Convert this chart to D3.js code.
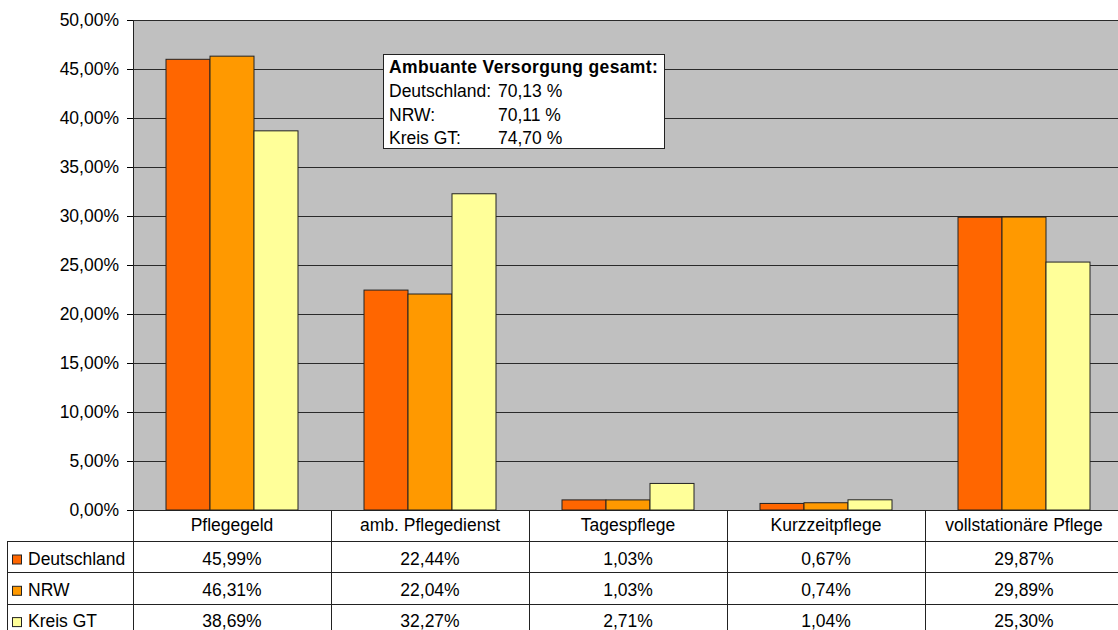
<!DOCTYPE html>
<html lang="de">
<head>
<meta charset="UTF-8">
<title>Pflege</title>
<script src="https://d3js.org/d3.v7.min.js"></script>
<style>
  body { margin: 0; background: #fff; }
  svg { display: block; font-family: "Liberation Sans", Arial, sans-serif; }
</style>
</head>
<body>
<div id="chart"></div>
<script>
const categories = ["Pflegegeld", "amb. Pflegedienst", "Tagespflege", "Kurzzeitpflege", "vollstationäre Pflege"];
const seriesNames = ["Deutschland", "NRW", "Kreis GT"];
const deutschland = [45.99, 22.44, 1.03, 0.67, 29.87];
const nrw = [46.31, 22.04, 1.03, 0.74, 29.89];
const kreisGT = [38.69, 32.27, 2.71, 1.04, 25.30];
const yTicks = [0, 5, 10, 15, 20, 25, 30, 35, 40, 45, 50];
const boxTitle = "Ambuante Versorgung gesamt:";
const boxLabels = ["Deutschland:", "NRW:", "Kreis GT:"];
const boxValues = ["70,13 %", "70,11 %", "74,70 %"];

const colors = ["#FF6600", "#FF9900", "#FFFF99"];
const values = [deutschland, nrw, kreisGT];

const W = 1118, H = 630;
const pLeft = 133, pRight = 1123, pTop = 20, pBottom = 510;
const rowH = 31.3, headH = 31.5;
const fs = "17.5px";

const de = d3.formatLocale({decimal: ",", thousands: ".", grouping: [3], currency: ["", " €"]});
const fmt = de.format(".2f");

const svg = d3.select("#chart").append("svg")
    .attr("width", W).attr("height", H);

const x0 = d3.scaleBand().domain(categories).range([pLeft, pRight])
    .paddingInner(1/3).paddingOuter(1/6);
const x1 = d3.scaleBand().domain(seriesNames).range([0, x0.bandwidth()]);
const xc = d3.scaleBand().domain(categories).range([pLeft, pRight]);
const y = d3.scaleLinear().domain([0, 50]).range([pBottom, pTop]);

// plot background
svg.append("rect")
    .attr("x", pLeft).attr("y", pTop)
    .attr("width", pRight - pLeft).attr("height", pBottom - pTop)
    .attr("fill", "#C0C0C0");

// grid lines
svg.append("g").selectAll("line")
    .data(yTicks.filter(d => d > 0))
    .enter().append("line")
    .attr("x1", pLeft).attr("x2", pRight)
    .attr("y1", d => Math.round(y(d)) + 0.5).attr("y2", d => Math.round(y(d)) + 0.5)
    .attr("stroke", "#2a2a2a").attr("stroke-width", 1);

// y axis
const yAxis = d3.axisLeft(y).tickValues(yTicks).tickSize(6).tickPadding(8)
    .tickFormat(d => fmt(d) + "%");
const ga = svg.append("g").attr("transform", "translate(" + pLeft + ",0)").call(yAxis);
ga.select(".domain").remove();
ga.selectAll("line").attr("stroke", "#000").attr("shape-rendering", "crispEdges");
ga.selectAll("text").attr("font-size", fs).attr("fill", "#000")
    .attr("font-family", "Liberation Sans, Arial, sans-serif");

// bars
const groups = svg.append("g").selectAll("g")
    .data(categories)
    .enter().append("g")
    .attr("transform", d => "translate(" + x0(d) + ",0)");

groups.selectAll("rect")
    .data((c, i) => seriesNames.map((s, j) => ({s: s, v: values[j][i], j: j})))
    .enter().append("rect")
    .attr("x", d => x1(d.s))
    .attr("y", d => y(d.v))
    .attr("width", x1.bandwidth())
    .attr("height", d => y(0) - y(d.v))
    .attr("fill", d => colors[d.j])
    .attr("stroke", "#222").attr("stroke-width", 1);

// table lines
const tBottom = pBottom + headH + rowH * 3;
const tl = svg.append("g").attr("stroke", "#222").attr("stroke-width", 1)
    .attr("shape-rendering", "crispEdges");
tl.append("line").attr("x1", pLeft).attr("x2", pRight).attr("y1", pBottom).attr("y2", pBottom);
tl.append("line").attr("x1", pLeft).attr("x2", pLeft).attr("y1", pTop).attr("y2", tBottom);
tl.selectAll(".vd").data(categories.slice(1)).enter().append("line")
    .attr("x1", d => xc(d)).attr("x2", d => xc(d))
    .attr("y1", pBottom).attr("y2", tBottom);
tl.append("line").attr("x1", 7).attr("x2", 7).attr("y1", pBottom + headH).attr("y2", tBottom);
tl.selectAll(".hd").data(seriesNames).enter().append("line")
    .attr("x1", 7).attr("x2", pRight)
    .attr("y1", (d, i) => pBottom + headH + rowH * i)
    .attr("y2", (d, i) => pBottom + headH + rowH * i);

// header labels
svg.append("g").selectAll("text")
    .data(categories)
    .enter().append("text")
    .attr("x", d => xc(d) + xc.bandwidth() / 2)
    .attr("y", pBottom + 21)
    .attr("text-anchor", "middle")
    .attr("font-size", fs)
    .text(d => d);

// rows
seriesNames.forEach((s, j) => {
  const ry = pBottom + headH + rowH * j;
  svg.append("rect")
      .attr("x", 12.5).attr("y", ry + 13.5)
      .attr("width", 9).attr("height", 9)
      .attr("fill", colors[j]).attr("stroke", "#222");
  svg.append("text")
      .attr("x", 28).attr("y", ry + 23)
      .attr("font-size", fs)
      .text(s);
  svg.append("g").selectAll("text")
      .data(values[j])
      .enter().append("text")
      .attr("x", (d, i) => xc(categories[i]) + xc.bandwidth() / 2)
      .attr("y", ry + 23)
      .attr("text-anchor", "middle")
      .attr("font-size", fs)
      .text(d => fmt(d) + "%");
});

// annotation box
const box = svg.append("g");
box.append("rect")
    .attr("x", 383.5).attr("y", 54.5).attr("width", 281).attr("height", 94)
    .attr("fill", "#fff").attr("stroke", "#222").attr("stroke-width", 1);
box.append("text")
    .attr("x", 389).attr("y", 73)
    .attr("font-size", fs).attr("font-weight", "bold")
    .attr("letter-spacing", "0.35px")
    .text(boxTitle);
boxLabels.forEach((l, i) => {
  box.append("text").attr("x", 389).attr("y", 97 + i * 23.5)
      .attr("font-size", fs).text(l);
  box.append("text").attr("x", 498).attr("y", 97 + i * 23.5)
      .attr("font-size", fs).text(boxValues[i]);
});
</script>
</body>
</html>
